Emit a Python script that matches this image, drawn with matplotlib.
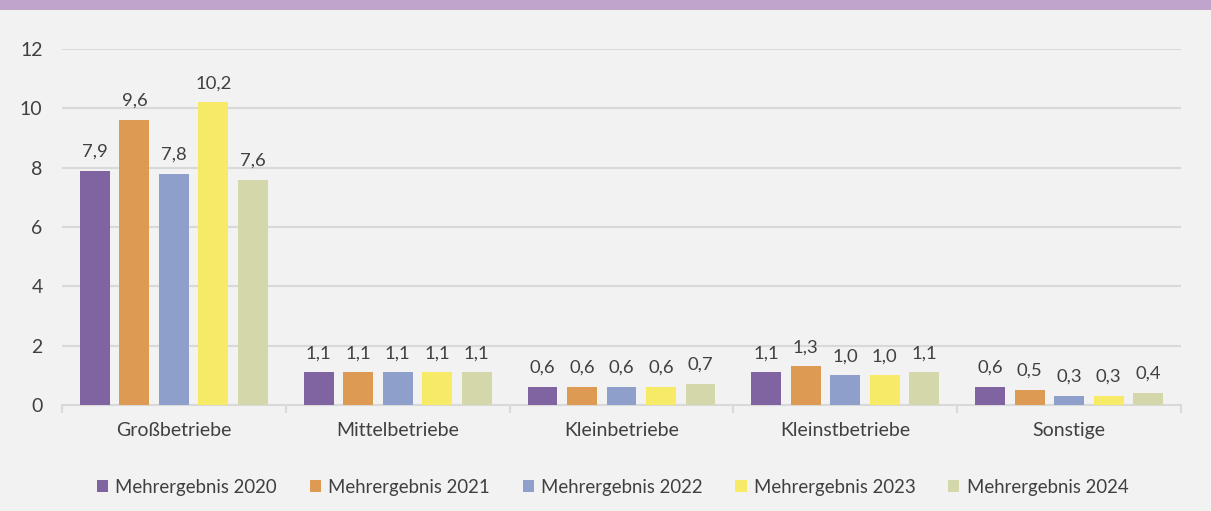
import numpy as np
import matplotlib
matplotlib.use("Agg")
import matplotlib.pyplot as plt
from matplotlib.patches import Rectangle

# ================= DATA =================
CATEGORIES = ["Großbetriebe", "Mittelbetriebe", "Kleinbetriebe", "Kleinstbetriebe", "Sonstige"]
SERIES = ["Mehrergebnis 2020", "Mehrergebnis 2021", "Mehrergebnis 2022",
          "Mehrergebnis 2023", "Mehrergebnis 2024"]
V2020 = [7.9, 1.1, 0.6, 1.1, 0.6]
V2021 = [9.6, 1.1, 0.6, 1.3, 0.5]
V2022 = [7.8, 1.1, 0.6, 1.0, 0.3]
V2023 = [10.2, 1.1, 0.6, 1.0, 0.3]
V2024 = [7.6, 1.1, 0.7, 1.1, 0.4]
Y_TICKS = [0, 2, 4, 6, 8, 10, 12]
# =========================================

COLORS = ["#8064a2", "#dd9a52", "#8f9fcc", "#f7ea67", "#d3d7aa"]
BG = "#f2f2f2"
TXT = "#404040"
GRID = "#d9d9d9"

plt.rcParams["font.family"] = ["Lato", "DejaVu Sans"]

fig = plt.figure(figsize=(12.11, 5.11), dpi=100, facecolor=BG)
ax = fig.add_axes([62 / 1211, 106 / 511, (1181 - 62) / 1211, (405 - 49) / 511])
ax.set_facecolor(BG)

# purple band on top
fig.patches.append(Rectangle((0, 1 - 10 / 511), 1, 10 / 511, transform=fig.transFigure,
                             facecolor="#c0a4cc", edgecolor="none", zorder=0))

values = [V2020, V2021, V2022, V2023, V2024]
x = np.arange(len(CATEGORIES))
pitch = 0.1765
width = 0.134
for i, (name, vals, col) in enumerate(zip(SERIES, values, COLORS)):
    pos = x + (i - 2) * pitch
    bars = ax.bar(pos, vals, width, color=col, label=name, zorder=3)
    for b, v in zip(bars, vals):
        ax.annotate(f"{v:.1f}".replace(".", ","), (b.get_x() + b.get_width() / 2, v),
                    xytext=(0, 8), textcoords="offset points", ha="center", va="bottom",
                    fontsize=13.3, color=TXT)

ax.set_xlim(-0.5, len(CATEGORIES) - 0.5)
ax.set_ylim(0, 12)
ax.set_yticks(Y_TICKS)
ax.set_yticklabels([str(t) for t in Y_TICKS], fontsize=14, color=TXT)
ax.yaxis.grid(True, color=GRID, linewidth=1.5, zorder=0)
ax.set_axisbelow(True)
ax.tick_params(axis="y", length=0, pad=14)

# category labels and boundary ticks
ax.set_xticks(x)
ax.set_xticklabels(CATEGORIES, fontsize=14, color=TXT)
ax.tick_params(axis="x", length=0, pad=12)
ax.set_xticks(np.arange(len(CATEGORIES) + 1) - 0.5, minor=True)
ax.tick_params(axis="x", which="minor", length=6, width=1.5, color=GRID, direction="out")

for s in ["top", "right", "left"]:
    ax.spines[s].set_visible(False)
ax.spines["bottom"].set_color(GRID)
ax.spines["bottom"].set_linewidth(1.5)

leg = fig.legend(loc="center", bbox_to_anchor=(0.506, 24 / 511), ncol=5, frameon=False,
                 fontsize=13.4, handlelength=0.6, handleheight=0.6, handletextpad=0.4,
                 columnspacing=1.75)
for t in leg.get_texts():
    t.set_color(TXT)

fig.savefig("out.png", dpi=100, facecolor=BG)
